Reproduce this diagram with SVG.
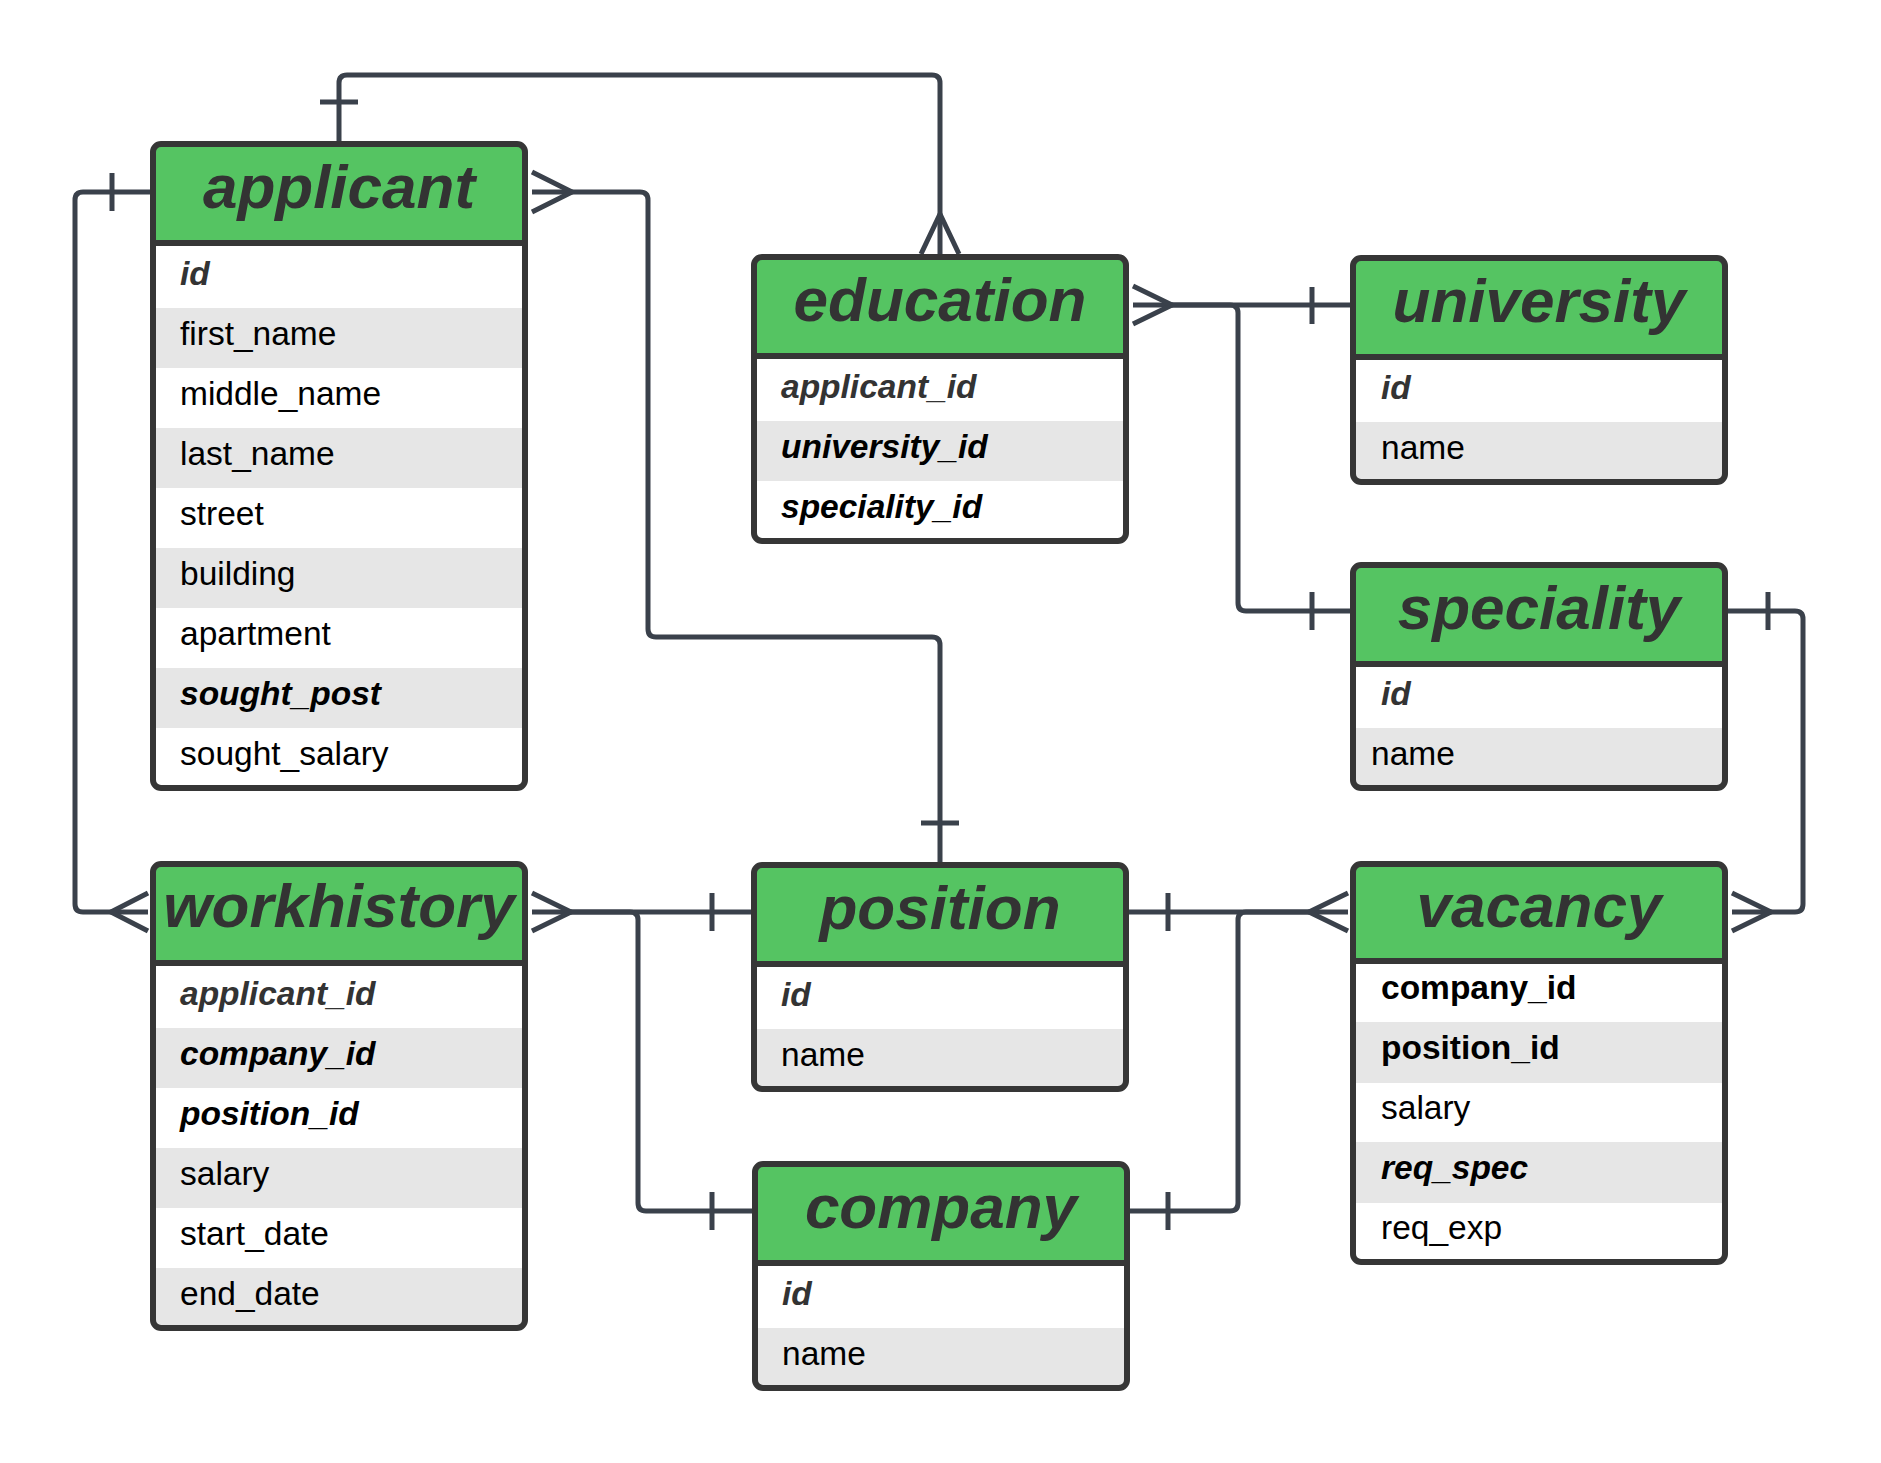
<svg xmlns="http://www.w3.org/2000/svg" width="1881" height="1463" viewBox="0 0 1881 1463">
<style>
.bg{fill:#ffffff}
.hdr{fill:#55c462}
.alt{fill:#e6e6e6}
.box{fill:none;stroke:#363636;stroke-width:6}
.sep{stroke:#363636;stroke-width:6}
.title{font-family:"Liberation Sans",Arial,sans-serif;font-size:62px;font-weight:bold;font-style:italic;fill:#333333;text-anchor:middle}
.f{font-family:"Liberation Sans",Arial,sans-serif;font-size:33.5px;fill:#000000}
.pk{font-weight:bold;font-style:italic;fill:#333333}
.fk{font-weight:bold;font-style:italic;fill:#000000}
.bk{font-weight:bold;fill:#000000}
.conn path{fill:none;stroke:#3a414b;stroke-width:5;stroke-linejoin:round}
</style>
<rect x="0" y="0" width="1881" height="1463" fill="#ffffff"/>

<g id="connectors" class="conn">
  <path d="M339 141 V83 Q339 75 347 75 H932 Q940 75 940 83 V254"/>
  <path d="M320 102 H358"/>
  <path d="M921 254 L940 214 L959 254"/>
  <path d="M150 192 H83 Q75 192 75 200 V904 Q75 912 83 912 H148"/>
  <path d="M112 173 V211"/>
  <path d="M148 893 L111 912 L148 931"/>
  <path d="M532 192 H640 Q648 192 648 200 V629 Q648 637 656 637 H932 Q940 637 940 645 V862"/>
  <path d="M532 172 L572 192 L532 212"/>
  <path d="M921 823 H959"/>
  <path d="M1133 305 H1350"/>
  <path d="M1133 286 L1172 305 L1133 324"/>
  <path d="M1312 287 V324"/>
  <path d="M1172 305 H1230 Q1238 305 1238 313 V603 Q1238 611 1246 611 H1350"/>
  <path d="M1312 592 V630"/>
  <path d="M1728 611 H1795 Q1803 611 1803 619 V904 Q1803 912 1795 912 H1732"/>
  <path d="M1768 592 V630"/>
  <path d="M1732 893 L1771 912 L1732 931"/>
  <path d="M532 912 H751"/>
  <path d="M532 893 L571 912 L532 931"/>
  <path d="M712 893 V931"/>
  <path d="M571 912 H630 Q638 912 638 920 V1203 Q638 1211 646 1211 H752"/>
  <path d="M712 1192 V1230"/>
  <path d="M1129 912 H1348"/>
  <path d="M1168 893 V931"/>
  <path d="M1348 893 L1309 912 L1348 931"/>
  <path d="M1130 1211 H1230 Q1238 1211 1238 1203 V920 Q1238 912 1246 912 H1309"/>
  <path d="M1168 1192 V1230"/>
</g>

<g id="applicant">
  <rect class="bg" x="156" y="147" width="366" height="641"/>
  <rect class="hdr" x="156" y="147" width="366" height="96"/>
  <rect class="alt" x="156" y="308" width="366" height="60"/>
  <rect class="alt" x="156" y="428" width="366" height="60"/>
  <rect class="alt" x="156" y="548" width="366" height="60"/>
  <rect class="alt" x="156" y="668" width="366" height="60"/>
  <line class="sep" x1="153" y1="243" x2="525" y2="243"/>
  <rect class="box" x="153" y="144" width="372" height="644" rx="8"/>
  <text class="title" x="339" y="208">applicant</text>
  <text class="f pk" x="180" y="285">id</text>
  <text class="f" x="180" y="345">first_name</text>
  <text class="f" x="180" y="405">middle_name</text>
  <text class="f" x="180" y="465">last_name</text>
  <text class="f" x="180" y="525">street</text>
  <text class="f" x="180" y="585">building</text>
  <text class="f" x="180" y="645">apartment</text>
  <text class="f fk" x="180" y="705">sought_post</text>
  <text class="f" x="180" y="765">sought_salary</text>
</g>

<g id="education">
  <rect class="bg" x="757" y="260" width="366" height="281"/>
  <rect class="hdr" x="757" y="260" width="366" height="96"/>
  <rect class="alt" x="757" y="421" width="366" height="60"/>
  <line class="sep" x1="754" y1="356" x2="1126" y2="356"/>
  <rect class="box" x="754" y="257" width="372" height="284" rx="8"/>
  <text class="title" x="940" y="321">education</text>
  <text class="f pk" x="781" y="398">applicant_id</text>
  <text class="f fk" x="781" y="458">university_id</text>
  <text class="f fk" x="781" y="518">speciality_id</text>
</g>

<g id="university">
  <rect class="bg" x="1356" y="261" width="366" height="221"/>
  <rect class="hdr" x="1356" y="261" width="366" height="96"/>
  <rect class="alt" x="1356" y="422" width="366" height="60"/>
  <line class="sep" x1="1353" y1="357" x2="1725" y2="357"/>
  <rect class="box" x="1353" y="258" width="372" height="224" rx="8"/>
  <text class="title" x="1539" y="322">university</text>
  <text class="f pk" x="1381" y="399">id</text>
  <text class="f" x="1381" y="459">name</text>
</g>

<g id="speciality">
  <rect class="bg" x="1356" y="568" width="366" height="220"/>
  <rect class="hdr" x="1356" y="568" width="366" height="96"/>
  <rect class="alt" x="1356" y="728" width="366" height="60"/>
  <line class="sep" x1="1353" y1="664" x2="1725" y2="664"/>
  <rect class="box" x="1353" y="565" width="372" height="223" rx="8"/>
  <text class="title" x="1539" y="629">speciality</text>
  <text class="f pk" x="1381" y="705">id</text>
  <text class="f" x="1371" y="765">name</text>
</g>

<g id="workhistory">
  <rect class="bg" x="156" y="867" width="366" height="461"/>
  <rect class="hdr" x="156" y="867" width="366" height="96"/>
  <rect class="alt" x="156" y="1028" width="366" height="60"/>
  <rect class="alt" x="156" y="1148" width="366" height="60"/>
  <rect class="alt" x="156" y="1268" width="366" height="60"/>
  <line class="sep" x1="153" y1="963" x2="525" y2="963"/>
  <rect class="box" x="153" y="864" width="372" height="464" rx="8"/>
  <text class="title" x="339" y="927">workhistory</text>
  <text class="f pk" x="180" y="1005">applicant_id</text>
  <text class="f fk" x="180" y="1065">company_id</text>
  <text class="f fk" x="180" y="1125">position_id</text>
  <text class="f" x="180" y="1185">salary</text>
  <text class="f" x="180" y="1245">start_date</text>
  <text class="f" x="180" y="1305">end_date</text>
</g>

<g id="position">
  <rect class="bg" x="757" y="868" width="366" height="221"/>
  <rect class="hdr" x="757" y="868" width="366" height="96"/>
  <rect class="alt" x="757" y="1029" width="366" height="60"/>
  <line class="sep" x1="754" y1="964" x2="1126" y2="964"/>
  <rect class="box" x="754" y="865" width="372" height="224" rx="8"/>
  <text class="title" x="940" y="929">position</text>
  <text class="f pk" x="781" y="1006">id</text>
  <text class="f" x="781" y="1066">name</text>
</g>

<g id="company">
  <rect class="bg" x="758" y="1167" width="366" height="221"/>
  <rect class="hdr" x="758" y="1167" width="366" height="96"/>
  <rect class="alt" x="758" y="1328" width="366" height="60"/>
  <line class="sep" x1="755" y1="1263" x2="1127" y2="1263"/>
  <rect class="box" x="755" y="1164" width="372" height="224" rx="8"/>
  <text class="title" x="941" y="1228">company</text>
  <text class="f pk" x="782" y="1305">id</text>
  <text class="f" x="782" y="1365">name</text>
</g>

<g id="vacancy">
  <rect class="bg" x="1356" y="867" width="366" height="395"/>
  <rect class="hdr" x="1356" y="867" width="366" height="94"/>
  <rect class="alt" x="1356" y="1022" width="366" height="61"/>
  <rect class="alt" x="1356" y="1142" width="366" height="61"/>
  <line class="sep" x1="1353" y1="961" x2="1725" y2="961"/>
  <rect class="box" x="1353" y="864" width="372" height="398" rx="8"/>
  <text class="title" x="1539" y="927">vacancy</text>
  <text class="f bk" x="1381" y="999">company_id</text>
  <text class="f bk" x="1381" y="1059">position_id</text>
  <text class="f" x="1381" y="1119">salary</text>
  <text class="f fk" x="1381" y="1179">req_spec</text>
  <text class="f" x="1381" y="1239">req_exp</text>
</g>
</svg>
